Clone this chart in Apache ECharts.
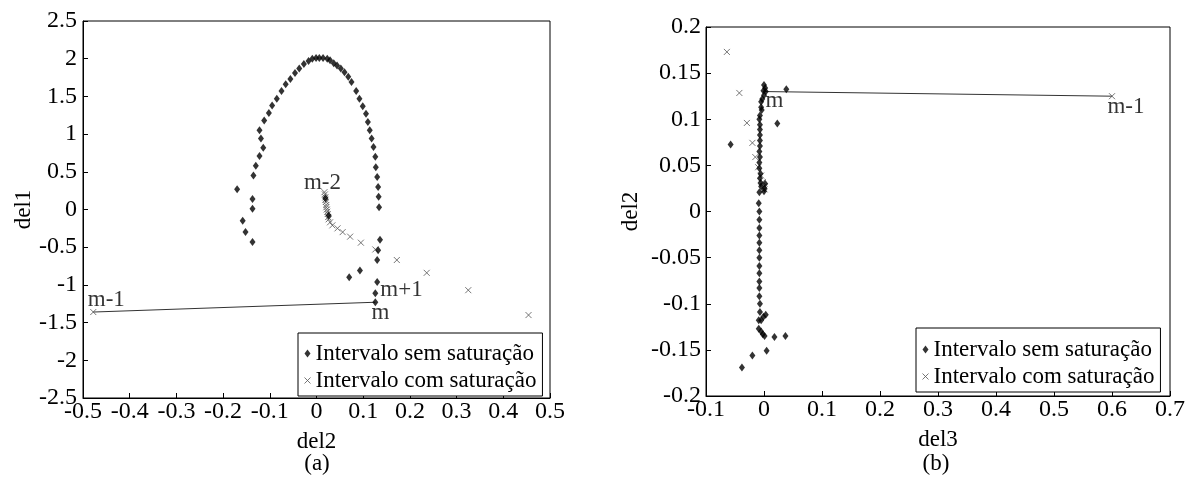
<!DOCTYPE html>
<html>
<head>
<meta charset="utf-8">
<script src="https://cdn.jsdelivr.net/npm/echarts@6.0.0/dist/echarts.min.js"></script>
<style>
  html, body { margin: 0; background: #fff; }
  #main { width: 1195px; height: 486px; }
</style>
</head>
<body>
<div id="main"></div>
<script>
const FONT = '"Liberation Serif", "Times New Roman", serif';
const SEM = 'Intervalo sem saturação';
const COM = 'Intervalo com saturação';
const XMARK = 'path://M0,0L8,8M8,0L0,8';

// (a) del2 (x) vs del1 (y)
const aXAxis = [-0.5, 0.5, 0.1];
const aYAxis = [-2.5, 2.5, 0.5];
const aSem = [
  [-0.170, 0.27], [-0.137, 0.14], [-0.137, 0.01], [-0.158, -0.15], [-0.152, -0.30], [-0.137, -0.43],
  [-0.135, 0.45], [-0.130, 0.58], [-0.122, 0.71], [-0.114, 0.82], [-0.119, 0.94], [-0.122, 1.05],
  [-0.112, 1.18], [-0.102, 1.28], [-0.095, 1.38], [-0.085, 1.47], [-0.075, 1.57], [-0.066, 1.66],
  [-0.056, 1.73], [-0.046, 1.81], [-0.037, 1.87], [-0.027, 1.93], [-0.017, 1.97], [-0.009, 2.00],
  [-0.001, 2.01], [0.006, 2.01], [0.014, 2.01], [0.023, 2.00], [0.029, 1.98], [0.037, 1.94],
  [0.044, 1.91], [0.052, 1.87], [0.060, 1.82], [0.068, 1.76], [0.075, 1.69], [0.085, 1.57],
  [0.092, 1.47], [0.099, 1.37], [0.106, 1.27], [0.110, 1.16], [0.114, 1.05], [0.118, 0.94],
  [0.122, 0.83], [0.126, 0.70], [0.127, 0.56], [0.130, 0.43], [0.132, 0.30], [0.133, 0.17],
  [0.134, 0.03], [0.136, -0.40], [0.132, -0.54], [0.130, -0.67], [0.093, -0.81], [0.070, -0.90],
  [0.130, -0.96], [0.126, -1.11], [0.126, -1.23], [0.019, 0.15], [0.026, -0.08]
];
const aCom = [
  [-0.478, -1.36], [0.454, -1.40], [0.325, -1.07], [0.236, -0.84], [0.172, -0.67], [0.126, -0.53],
  [0.095, -0.44], [0.072, -0.36], [0.056, -0.30], [0.045, -0.25], [0.034, -0.21], [0.029, -0.17],
  [0.026, -0.13], [0.025, -0.10], [0.024, -0.06], [0.023, -0.03], [0.022, 0.00], [0.021, 0.03],
  [0.021, 0.06], [0.020, 0.10], [0.019, 0.13], [0.019, 0.16], [0.018, 0.20], [0.017, 0.23]
];
const aLink = [[-0.478, -1.36], [0.126, -1.23]];
const aNotes = [['m-2', 0.017, 0.23], ['m+1', 0.126, -1.11], ['m-1', -0.478, -1.36], ['m', 0.126, -1.23]];

// (b) del3 (x) vs del2 (y)
const bXAxis = [-0.1, 0.7, 0.1];
const bYAxis = [-0.2, 0.2, 0.05];
const bSem = [
  [-0.0575, 0.0726], [-0.038, -0.169], [-0.020, -0.156], [0.0045, -0.151], [0.018, -0.136],
  [0.037, -0.135], [0.023, 0.0953], [0.0385, 0.1325],
  [0.000, 0.137], [0.002, 0.134], [-0.001, 0.131], [0.003, 0.130], [0.000, 0.126], [-0.003, 0.122],
  [-0.005, 0.119], [-0.005, 0.113], [-0.004, 0.110],
  [-0.007, 0.104], [-0.008, 0.100], [-0.007, 0.094], [-0.007, 0.089], [-0.007, 0.083], [-0.007, 0.077],
  [-0.007, 0.071], [-0.008, 0.065], [-0.007, 0.059], [-0.008, 0.053], [-0.008, 0.047], [-0.006, 0.041],
  [-0.007, 0.036], [-0.006, 0.031], [-0.005, 0.027], [-0.008, 0.021], [-0.009, 0.009], [-0.008, 0.000],
  [-0.008, -0.009], [-0.008, -0.018], [-0.008, -0.026], [-0.008, -0.034], [-0.008, -0.042],
  [-0.008, -0.050], [-0.008, -0.059], [-0.008, -0.067], [-0.008, -0.076], [-0.008, -0.083],
  [-0.008, -0.092], [-0.007, -0.100], [-0.007, -0.109], [-0.009, -0.118], [-0.005, -0.118],
  [0.003, -0.112], [-0.001, -0.114], [-0.009, -0.127], [-0.005, -0.130], [-0.002, -0.133],
  [0.001, -0.135], [0.001, 0.025], [0.002, 0.030], [0.000, 0.022]
];
const bCom = [
  [-0.064, 0.173], [-0.0425, 0.1285], [-0.0295, 0.096], [-0.020, 0.0744], [-0.015, 0.059],
  [-0.010, 0.048], [-0.005, 0.039], [-0.002, 0.032], [0.000, 0.027], [0.001, 0.024], [0.600, 0.125]
];
const bLink = [[0.0025, 0.130], [0.600, 0.125]];
const bNotes = [['m', 0.0025, 0.130], ['m-1', 0.600, 0.125]];

// where each note sits relative to its point
const aPlace = { 'm-2': ['top', [-2, 7]], 'm+1': ['right', [0, -3]], 'm-1': ['top', [13, 4]], 'm': ['bottom', [5, -6]] };
const bPlace = { 'm': ['bottom', [9, -7]], 'm-1': ['bottom', [14, -6]] };

var chart = echarts.init(document.getElementById('main'));

function axis(idx, range, name, nameGap, margin) {
  return {
    type: 'value',
    gridIndex: idx,
    min: range[0],
    max: range[1],
    interval: range[2],
    name: name,
    nameLocation: 'middle',
    nameGap: nameGap,
    nameTextStyle: { color: '#000', fontFamily: FONT, fontSize: 23 },
    axisLine: { show: true, onZero: false, lineStyle: { color: '#000', width: 1 } },
    axisTick: { show: true, inside: true, length: 5, lineStyle: { color: '#000', width: 1 } },
    axisLabel: {
      color: '#000', fontFamily: FONT, fontSize: 24, margin: margin,
      showMinLabel: true, showMaxLabel: true, hideOverlap: false,
      formatter: (v) => String(+v.toFixed(3))
    },
    splitLine: { show: false }
  };
}

function scatter(name, data, idx, isX) {
  return {
    name: name,
    type: 'scatter',
    xAxisIndex: idx,
    yAxisIndex: idx,
    data: data,
    symbol: isX ? XMARK : 'diamond',
    symbolSize: isX ? 6 : [6, 8],
    itemStyle: isX
      ? { color: 'rgba(0,0,0,0)', borderColor: '#555', borderWidth: 1 }
      : { color: '#000' },
    emphasis: { disabled: true },
    z: isX ? 3 : 4
  };
}

function link(data, idx) {
  return {
    type: 'line',
    xAxisIndex: idx,
    yAxisIndex: idx,
    data: data,
    symbol: 'none',
    lineStyle: { color: '#333', width: 1 },
    silent: true,
    z: 2
  };
}

function notes(list, place, idx) {
  return {
    type: 'scatter',
    xAxisIndex: idx,
    yAxisIndex: idx,
    symbolSize: 0,
    silent: true,
    data: list.map((n) => ({
      value: [n[1], n[2]],
      label: {
        show: true,
        formatter: n[0],
        position: place[n[0]][0],
        offset: place[n[0]][1],
        distance: 5,
        color: '#000',
        fontFamily: FONT,
        fontSize: 23
      }
    })),
    z: 5
  };
}

function legend(left, top, padding) {
  return {
    left: left,
    top: top,
    orient: 'vertical',
    padding: padding,
    itemGap: 4,
    itemWidth: 6,
    itemHeight: 8,
    backgroundColor: '#fff',
    borderColor: '#000',
    borderWidth: 1,
    borderRadius: 0,
    selectedMode: false,
    textStyle: { color: '#000', fontFamily: FONT, fontSize: 23 },
    data: [
      { name: SEM, icon: 'diamond', itemStyle: { color: '#000' } },
      { name: COM, icon: XMARK, itemStyle: { color: 'rgba(0,0,0,0)', borderColor: '#555', borderWidth: 1 } }
    ],
    z: 10
  };
}

const option = {
  animation: false,
  backgroundColor: '#fff',
  grid: [
    { left: 83, top: 21, width: 467, height: 377, show: true, borderColor: '#000', borderWidth: 1, backgroundColor: 'transparent', containLabel: false },
    { left: 706, top: 27, width: 464, height: 369, show: true, borderColor: '#000', borderWidth: 1, backgroundColor: 'transparent', containLabel: false }
  ],
  xAxis: [axis(0, aXAxis, 'del2', 32, 2), axis(1, bXAxis, 'del3', 32, 2)],
  yAxis: [axis(0, aYAxis, 'del1', 48, 6), axis(1, bYAxis, 'del2', 64, 5)],
  legend: [legend(298, 333, [9, 6, 4, 6]), legend(916, 328, [10, 6, 4, 6])],
  series: [
    link(aLink, 0),
    scatter(COM, aCom, 0, true),
    scatter(SEM, aSem, 0, false),
    notes(aNotes, aPlace, 0),
    link(bLink, 1),
    scatter(COM, bCom, 1, true),
    scatter(SEM, bSem, 1, false),
    notes(bNotes, bPlace, 1)
  ],
  graphic: [
    { type: 'text', x: 317, y: 464, style: { text: '(a)', font: '23px "Liberation Serif"', fill: '#000', align: 'center', verticalAlign: 'middle' } },
    { type: 'text', x: 936, y: 464, style: { text: '(b)', font: '23px "Liberation Serif"', fill: '#000', align: 'center', verticalAlign: 'middle' } }
  ]
};

chart.setOption(option);
</script>
</body>
</html>
